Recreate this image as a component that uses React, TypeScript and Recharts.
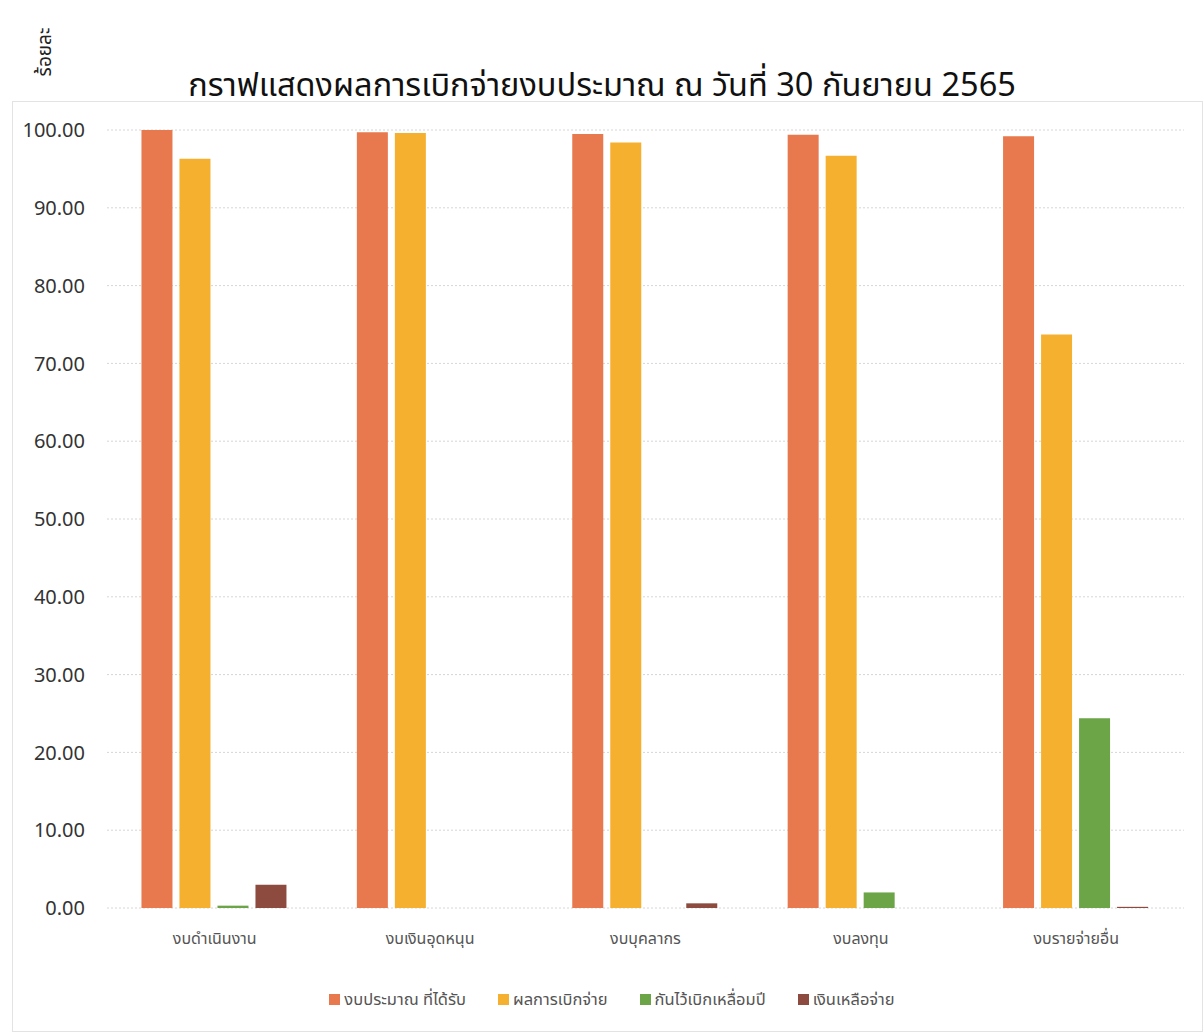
import React from "react";
import { BarChart, Bar, XAxis, YAxis, CartesianGrid, Legend } from "recharts";

const categories = ["งบดำเนินงาน", "งบเงินอุดหนุน", "งบบุคลากร", "งบลงทุน", "งบรายจ่ายอื่น"];
const budgetReceived = [100, 99.7, 99.5, 99.4, 99.2];
const disbursed = [96.3, 99.6, 98.4, 96.7, 73.7];
const carriedOver = [0.3, 0, 0, 2.0, 24.4];
const remaining = [3.0, 0, 0.6, 0, 0.15];
const yTicks = [0, 10, 20, 30, 40, 50, 60, 70, 80, 90, 100];

const seriesNames = ["งบประมาณ ที่ได้รับ", "ผลการเบิกจ่าย", "กันไว้เบิกเหลื่อมปี", "เงินเหลือจ่าย"];
const seriesColors = ["#E8784D", "#F6B02F", "#6BA548", "#8C4B3E"];

const data = categories.map((c, i) => ({
  name: c,
  s0: budgetReceived[i],
  s1: disbursed[i],
  s2: carriedOver[i],
  s3: remaining[i],
}));

const thaiFont = "'Noto Sans Thai', 'Noto Sans Thai UI', Tahoma, 'Noto Sans', 'DejaVu Sans', sans-serif";

const LegendContent = () => (
  <div style={{ display: "flex", justifyContent: "center", alignItems: "center", gap: 32, fontSize: 16.5, fontFamily: thaiFont, color: "#555" }}>
    {seriesNames.map((n, i) => (
      <div key={n} style={{ display: "flex", alignItems: "center" }}>
        <span style={{ display: "inline-block", width: 11, height: 11, background: seriesColors[i], marginRight: 4 }} />
        <span>{n}</span>
      </div>
    ))}
  </div>
);

export default function App() {
  return (
    <div style={{ position: "absolute", left: 0, top: 0, width: 1204, height: 1035, background: "#fff", fontFamily: thaiFont }}>
      <div style={{ position: "absolute", left: 12, top: 101, width: 1191, height: 931, border: "1px solid #e3e3e3", boxSizing: "border-box" }} />
      <div style={{ position: "absolute", left: 0, top: 63, width: 1204, textAlign: "center", fontSize: 32.5, fontWeight: 400, color: "#111", lineHeight: "48px" }}>
        กราฟแสดงผลการเบิกจ่ายงบประมาณ ณ วันที่ 30 กันยายน 2565
      </div>
      <div style={{ position: "absolute", left: 45, top: 52, transform: "translate(-50%, -50%) rotate(-90deg)", fontSize: 19, color: "#222", whiteSpace: "nowrap" }}>
        ร้อยละ
      </div>
      <div style={{ position: "absolute", left: 0, top: 0 }}>
        <BarChart width={1204} height={1035} data={data} margin={{ top: 130, right: 20, bottom: 77, left: 12 }} barGap={7} barCategoryGap="16%">
          <CartesianGrid vertical={false} stroke="#d6d6d6" strokeDasharray="2 2" />
          <XAxis dataKey="name" axisLine={false} tickLine={false} tickSize={0} tickMargin={25} height={50} interval={0}
            tick={{ fontSize: 16, fill: "#555", fontFamily: thaiFont }} />
          <YAxis domain={[0, 100]} ticks={yTicks} axisLine={false} tickLine={false} tickSize={0} tickMargin={22} width={95}
            tickFormatter={(v: number) => v.toFixed(2)} tick={{ fontSize: 20, fill: "#333", fontFamily: "'Noto Sans', sans-serif" }} />
          <Legend layout="horizontal" verticalAlign="middle" align="center" content={LegendContent}
            wrapperStyle={{ top: 987, left: 30, width: 1164 }} />
          {seriesNames.map((n, i) => (
            <Bar key={n} dataKey={`s${i}`} name={n} fill={seriesColors[i]} isAnimationActive={false} />
          ))}
        </BarChart>
      </div>
    </div>
  );
}
